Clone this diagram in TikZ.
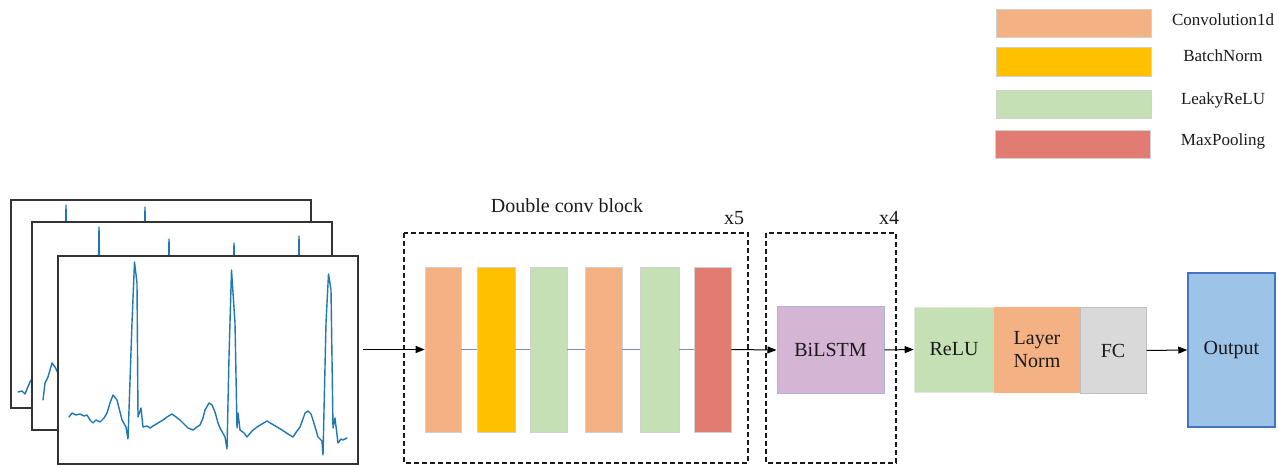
\documentclass[tikz,border=0pt]{standalone}
\usepackage{fontspec}
\setmainfont{Liberation Serif}
\usetikzlibrary{arrows.meta,calc}
\definecolor{convc}{HTML}{F4B183}
\definecolor{bnc}{HTML}{FFC000}
\definecolor{reluc}{HTML}{C5E0B4}
\definecolor{poolc}{HTML}{E27C73}
\definecolor{lstmc}{HTML}{D5B5D4}
\definecolor{lstmb}{HTML}{A9B4E0}
\definecolor{fcc}{HTML}{D9D9D9}
\definecolor{fcb}{HTML}{BFBFBF}
\definecolor{outc}{HTML}{9DC3E6}
\definecolor{outb}{HTML}{4472C4}
\definecolor{linkc}{HTML}{7A8CC0}
\definecolor{ecgc}{HTML}{1F77B4}
\definecolor{inkc}{HTML}{1A1A1A}
\begin{document}
\begin{tikzpicture}[x=1pt,y=-1pt,
  box/.style={rectangle,inner sep=0pt,draw=black!18,line width=0.6pt},
  frm/.style={rectangle,inner sep=0pt,draw=black!80,line width=1.4pt,fill=white,minimum width=300,minimum height=208},
  lbl/.style={font=\fontsize{20}{23}\selectfont,text=inkc},
  leg/.style={font=\fontsize{17}{20}\selectfont,text=inkc},
  dbox/.style={draw=inkc,dash pattern=on 5pt off 3pt,line width=1.1pt},
  arr/.style={-{Triangle[length=9pt,width=7pt]},line width=1pt,draw=black},
  ecg/.style={draw=ecgc,line width=1.4pt,line join=round,line cap=round}
]
\useasboundingbox (0,0) rectangle (1278,465);

% ---------- ECG stack ----------
\node[frm] (f1) at (161,304) {};
\begin{scope}
\clip (f1.south west) rectangle (f1.north east);
\draw[ecg] (18,392) -- (22,391) -- (25,394) -- (27,389) -- (30,382) -- (34,376);
\draw[ecg] (65.3,260) -- (66,205) -- (66.7,260);
\draw[ecg] (144.3,260) -- (145,207) -- (145.7,260);
\end{scope}
\node[frm] (f2) at (182,326) {};
\begin{scope}
\clip (f2.south west) rectangle (f2.north east);
\draw[ecg] (43,400) -- (45,383) -- (48,377) -- (52,363) -- (55,367) -- (58,373) -- (61,378);
\draw[ecg] (98.3,280) -- (99,227) -- (99.7,280);
\draw[ecg] (168.3,280) -- (169,239) -- (169.7,280);
\draw[ecg] (233.3,280) -- (234,243) -- (234.7,280);
\draw[ecg] (298.3,280) -- (299,236) -- (299.7,280);
\end{scope}
\node[frm] (f3) at (208,360) {};
\begin{scope}
\clip (f3.south west) rectangle (f3.north east);
\draw[ecg] (69,417) -- (72,413) -- (76,415) -- (80,414) -- (84,416) -- (87,415) -- (90,420) -- (93,423) -- (96,420) -- (100,422)
 -- (104,418) -- (107,413) -- (110,403) -- (113,395) -- (117,400) -- (120,412) -- (122,420) -- (126,427) -- (128,439)
 -- (132,323) -- (134.5,262) -- (137,283) -- (138,417) -- (141,408) -- (143,427) -- (147,426) -- (150,428) -- (153,426)
 -- (158,423) -- (163,420) -- (167,417) -- (172,414) -- (176,417) -- (180,420) -- (184,424) -- (188,428) -- (193,430)
 -- (197,427) -- (200,425) -- (203,418) -- (205,410) -- (209,403) -- (212,405) -- (215,412) -- (218,423) -- (220,428)
 -- (225,437) -- (227,449) -- (229,357) -- (231.5,270) -- (235,323) -- (237,428) -- (238,413) -- (240,430) -- (244,433)
 -- (247,437) -- (252,431) -- (257,427) -- (262,424) -- (267,421) -- (272,424) -- (277,427) -- (282,430) -- (288,434)
 -- (293,437) -- (297,431) -- (300,427) -- (303,419) -- (305,413) -- (308,411) -- (311,414) -- (313,420) -- (316,430)
 -- (318,437) -- (322,441) -- (323,455) -- (326,323) -- (328.5,274) -- (331,290) -- (333,428) -- (335,418) -- (338,443)
 -- (341,439) -- (343,440) -- (347,438);
\end{scope}

% ---------- Double conv block ----------
\draw[dbox] (404,233) rectangle (748,463);
\node[lbl] (dtitle) at (567,206) {Double conv block};
\node[lbl] (x5) at (734,218) {x5};
\node[box,fill=convc,minimum width=36,minimum height=165] (c1) at (443,349.5) {};
\node[box,fill=bnc,minimum width=38,minimum height=165] (c2) at (496,349.5) {};
\node[box,fill=reluc,minimum width=37,minimum height=165] (c3) at (548.5,349.5) {};
\node[box,fill=convc,minimum width=37,minimum height=165] (c4) at (603.5,349.5) {};
\node[box,fill=reluc,minimum width=39,minimum height=165] (c5) at (659.5,349.5) {};
\node[box,fill=poolc,minimum width=37,minimum height=165] (c6) at (712.5,349.5) {};
\foreach \a/\b in {c1/c2,c2/c3,c3/c4,c4/c5,c5/c6}
  \draw[linkc,line width=1.2pt] (\a.east) -- (\b.west);
\draw[arr] ($(f3.east |- c1.west)+(4,0)$) -- (c1.west);

% ---------- BiLSTM ----------
\draw[dbox] (766,233) rectangle (896,463);
\node[lbl] (x4) at (889,218) {x4};
\node[box,draw=lstmb,line width=1pt,fill=lstmc,minimum width=107,minimum height=86,lbl] (lstm) at (830.5,350) {BiLSTM};
\draw[arr] (c6.east) -- (lstm.west);

% ---------- Head ----------
\node[box,draw=black!10,fill=reluc,minimum width=80,minimum height=85,lbl] (relu) at (954,349.5) {ReLU};
\node[box,draw=convc,fill=convc,minimum width=86,minimum height=85,lbl,align=center] (ln) at (1037,349.5) {Layer\\Norm};
\node[box,draw=fcb,line width=1pt,fill=fcc,minimum width=66,minimum height=85,lbl] (fc) at (1113,350.5) {FC};
\node[box,draw=outb,line width=1.5pt,fill=outc,minimum width=87,minimum height=154,lbl] (out) at (1231.5,350) {Output};
\draw[arr] (lstm.east) -- (relu.west);
\draw[arr] (fc.east) -- (out.west);

% ---------- Legend ----------
\node[box,fill=convc,minimum width=155,minimum height=28] (lg1) at (1073.5,23) {};
\node[box,fill=bnc,minimum width=155,minimum height=29] (lg2) at (1073.5,61.5) {};
\node[box,fill=reluc,minimum width=155,minimum height=28] (lg3) at (1073.5,104) {};
\node[box,fill=poolc,minimum width=155,minimum height=28] (lg4) at (1072.5,144) {};
\node[leg] (t1) at (1223,20) {Convolution1d};
\node[leg] (t2) at (1223,56) {BatchNorm};
\node[leg] (t3) at (1223,100) {LeakyReLU};
\node[leg] (t4) at (1223,141) {MaxPooling};
\end{tikzpicture}
\end{document}
